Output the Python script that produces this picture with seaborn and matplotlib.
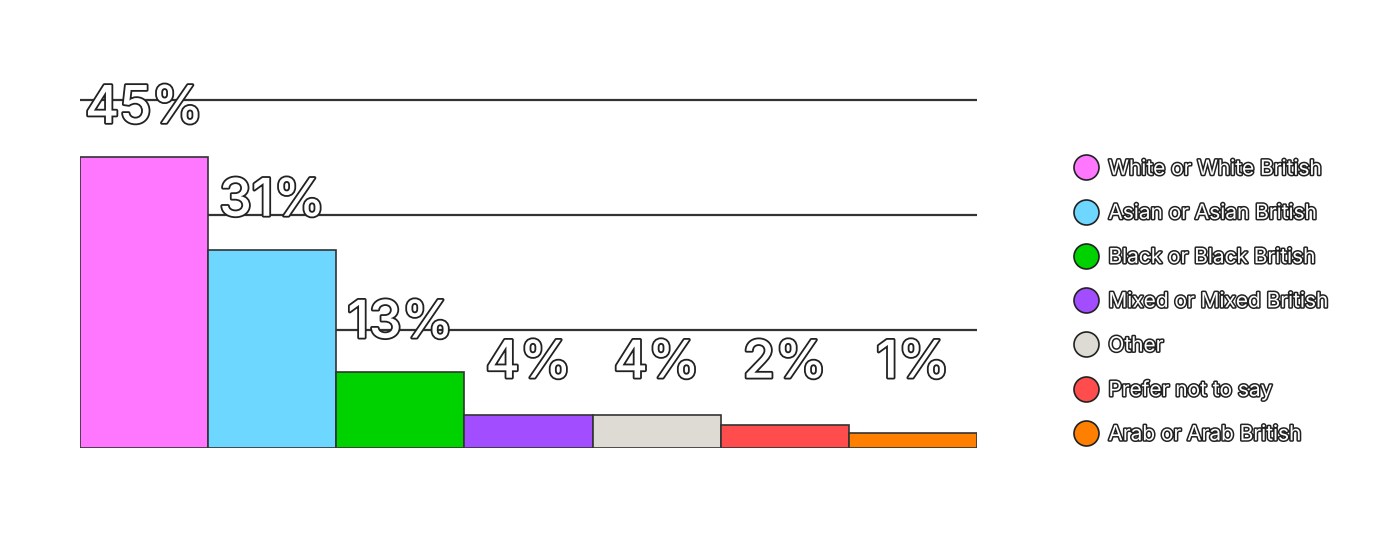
import matplotlib
matplotlib.use("Agg")
import matplotlib.pyplot as plt
import matplotlib.patheffects as pe
from matplotlib.lines import Line2D
import seaborn as sns
import pandas as pd

# ethnicity breakdown
groups = ["White or White British", "Asian or Asian British", "Black or Black British",
          "Mixed or Mixed British", "Other", "Prefer not to say", "Arab or Arab British"]
shares = [45, 31, 13, 4, 4, 2, 1]
# bar heights as drawn in the picture (not strictly proportional to the shares)
bar_heights = [45.1, 30.7, 11.8, 5.1, 5.1, 3.5, 2.3]
colors = ["#FF77FF", "#6DD7FF", "#00D200", "#A24DFF", "#DEDBD4", "#FF4D4D", "#FF8000"]
grid_levels = [18.3, 36.1, 54.0]

sns.set_style("white")
plt.rcParams["font.family"] = ["Inter", "DejaVu Sans"]

df = pd.DataFrame({"group": groups, "height": bar_heights})

fig = plt.figure(figsize=(14, 5.52), dpi=100)
ax = fig.add_axes([80 / 1400, 104 / 552, 897 / 1400, 387 / 552])

for g in grid_levels:
    ax.axhline(g, color="#333333", lw=1.6, zorder=0)

sns.barplot(data=df, x="group", y="height", hue="group", palette=colors,
            width=1.0, edgecolor="#333333", linewidth=1.2, legend=False,
            saturation=1, ax=ax, zorder=2)

outline = [pe.withStroke(linewidth=2.6, foreground="#222222")]
for i, (h, s) in enumerate(zip(bar_heights, shares)):
    y = max(h + 5.3, 10.9)
    ax.text(i, y, f"{s}%", ha="center", va="baseline", fontsize=37.5,
            fontweight="medium", color="white", path_effects=outline, zorder=3)

ax.set_xlim(-0.5, len(groups) - 0.5)
ax.set_ylim(0, 60)
ax.axis("off")

handles = [Line2D([0], [0], marker="o", linestyle="none", markersize=18,
                  markerfacecolor=c, markeredgecolor="#222222", markeredgewidth=1.2)
           for c in colors]
leg = fig.legend(handles, groups, loc="center left",
                 bbox_to_anchor=(1073 / 1400, (552 - 301.5) / 552),
                 frameon=False, fontsize=15, handlelength=1.2, handletextpad=0.5,
                 labelspacing=1.16, borderpad=0, borderaxespad=0)
for t in leg.get_texts():
    t.set_color("white")
    t.set_path_effects([pe.withStroke(linewidth=2.2, foreground="#222222")])

fig.savefig("out.png", dpi=100)
